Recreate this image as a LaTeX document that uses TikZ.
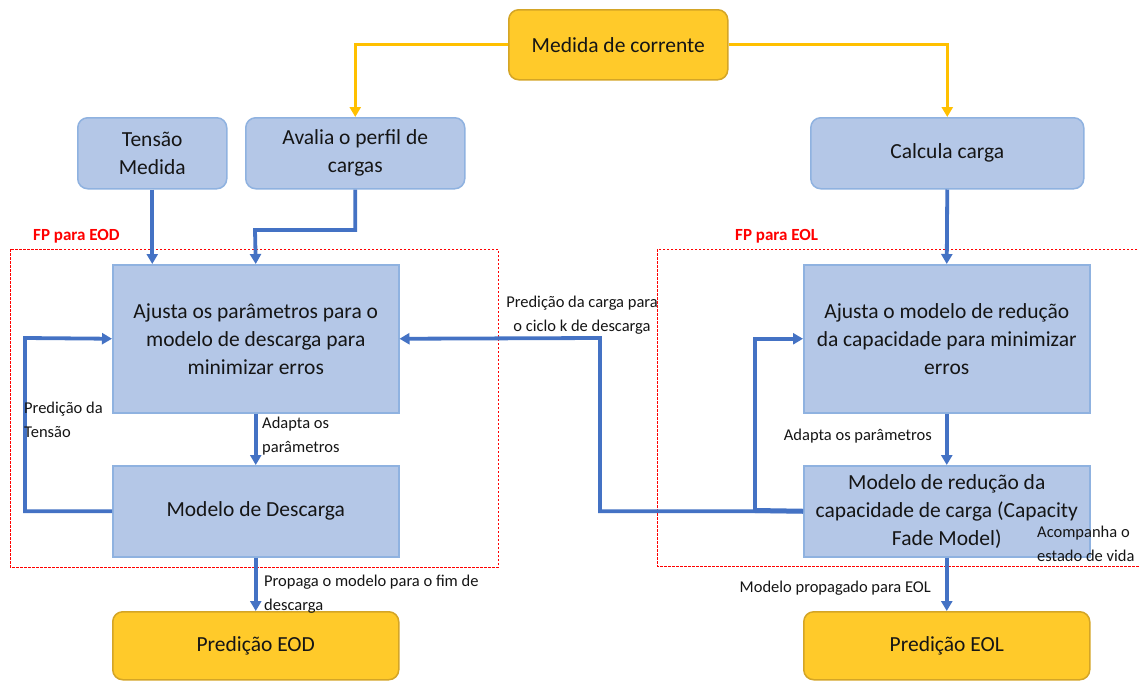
\documentclass[tikz,border=0pt]{standalone}
\usepackage{fontspec}
\setmainfont{Carlito}
\usetikzlibrary{arrows.meta}
\definecolor{bfill}{HTML}{B4C7E7}
\definecolor{bborder}{HTML}{8FB2E0}
\definecolor{yfill}{HTML}{FFCA2A}
\definecolor{yborder}{HTML}{D4A526}
\definecolor{yline}{HTML}{FFC000}
\definecolor{bline}{HTML}{4472C4}
\definecolor{txt}{HTML}{151515}
\tikzset{
  boxbase/.style={line width=1.5pt, align=center, inner sep=0pt, anchor=north west,
    text=txt, font=\fontsize{21.5}{28}\selectfont},
  bluebox/.style={boxbase, draw=bborder, fill=bfill},
  rbluebox/.style={bluebox, rounded corners=10pt},
  ybox/.style={boxbase, draw=yborder, fill=yfill, rounded corners=10pt},
  yarrow/.style={draw=yline, line width=3.2pt, -{Triangle[length=10pt,width=11pt]}},
  barrow/.style={draw=bline, line width=3.8pt, -{Triangle[length=10pt,width=11pt]}},
  bthick/.style={draw=bline, line width=5pt},
  lbl/.style={font=\fontsize{16.5}{23.5}\selectfont, text=txt, inner sep=0pt},
  fplbl/.style={font=\bfseries\fontsize{17}{19}\selectfont, text=red, inner sep=0pt},
  fpbox/.style={draw=red, line width=1pt, dash pattern=on 2.5pt off 1.5pt},
}
\begin{document}
\begin{tikzpicture}[x=1pt,y=-1pt]
\useasboundingbox[fill=white] (0,0) rectangle (1139,680);
% dashed regions
\draw[fpbox] (10,249) rectangle (498,567);
\draw[fpbox] (1145,249) -- (657,249) -- (657,566) -- (1145,566);
\node[fplbl, anchor=west] (fpeod) at (33,236) {FP para EOD};
\node[fplbl, anchor=west] (fpeol) at (735,236) {FP para EOL};
% nodes
\node[ybox, minimum width=219pt, minimum height=70pt] (medida) at (508,9) {Medida de corrente};
\node[rbluebox, minimum width=149pt, minimum height=71pt] (tensao) at (77,117) {Tensão\\Medida};
\node[rbluebox, minimum width=219pt, minimum height=71pt] (avalia) at (245,117) {Avalia o perfil de\\cargas};
\node[rbluebox, minimum width=273pt, minimum height=71pt] (calcula) at (810,117) {Calcula carga};
\node[bluebox, minimum width=286pt, minimum height=148pt] (ajustaL) at (112,264) {Ajusta os parâmetros para o\\modelo de descarga para\\minimizar erros};
\node[bluebox, minimum width=286pt, minimum height=91pt] (descL) at (112,465) {Modelo de Descarga};
\node[ybox, minimum width=286pt, minimum height=68pt] (eod) at (112,611) {Predição EOD};
\node[bluebox, minimum width=286pt, minimum height=148pt] (ajustaR) at (803,264) {Ajusta o modelo de redução\\da capacidade para minimizar\\erros};
\node[bluebox, minimum width=286pt, minimum height=91pt] (reducao) at (803,465) {Modelo de redução da\\capacidade de carga (Capacity\\Fade Model)};
\node[ybox, minimum width=286pt, minimum height=68pt] (eol) at (803,611) {Predição EOL};
% yellow connectors
\draw[yarrow] (medida.west) -| (avalia.north);
\draw[yarrow] (medida.east) -| (calcula.north);
% blue connectors
\draw[barrow] (tensao.south) -- (tensao.south |- ajustaL.north);
\coordinate (av1) at (255,230);
\draw[barrow] (avalia.south) |- (av1) -- (ajustaL.north);
\draw[barrow] (calcula.south) -- (ajustaR.north);
\draw[barrow] (ajustaL.south) -- (descL.north);
\draw[barrow] (descL.south) -- (eod.north);
\draw[barrow] (ajustaR.south) -- (reducao.north);
\draw[barrow] (reducao.south) -- (eol.north);
\coordinate (fbL) at (25,338);
\draw[barrow] (descL.west) -| (fbL) -- (ajustaL.west);
\coordinate (fbM) at (600,338);
\draw[barrow] (reducao.west) -| (fbM) -- (ajustaL.east);
\coordinate (fbR) at (755,510.5);
\draw[barrow] (fbR) |- (ajustaR.west);
\draw[bthick] (fbR) -- (reducao.west);
% labels
\node[lbl, align=center] (lcarga) at (582,315) {Predição da carga para\\o ciclo k de descarga};
\node[lbl, align=left, anchor=north west] (ladaptaL) at (262,417) {Adapta os\\parâmetros};
\node[lbl, align=left, anchor=north west] (ltensao) at (24,402) {Predição da\\Tensão};
\node[lbl, align=left, anchor=north west] (lpropaga) at (264,575) {Propaga o modelo para o fim de\\descarga};
\node[lbl, anchor=east] (lmodprop) at (931,588) {Modelo propagado para EOL};
\node[lbl, anchor=east] (ladaptaR) at (932,436) {Adapta os parâmetros};
\node[lbl, align=left, anchor=north west] (lacomp) at (1037,526) {Acompanha o\\estado de vida};
\end{tikzpicture}
\end{document}
